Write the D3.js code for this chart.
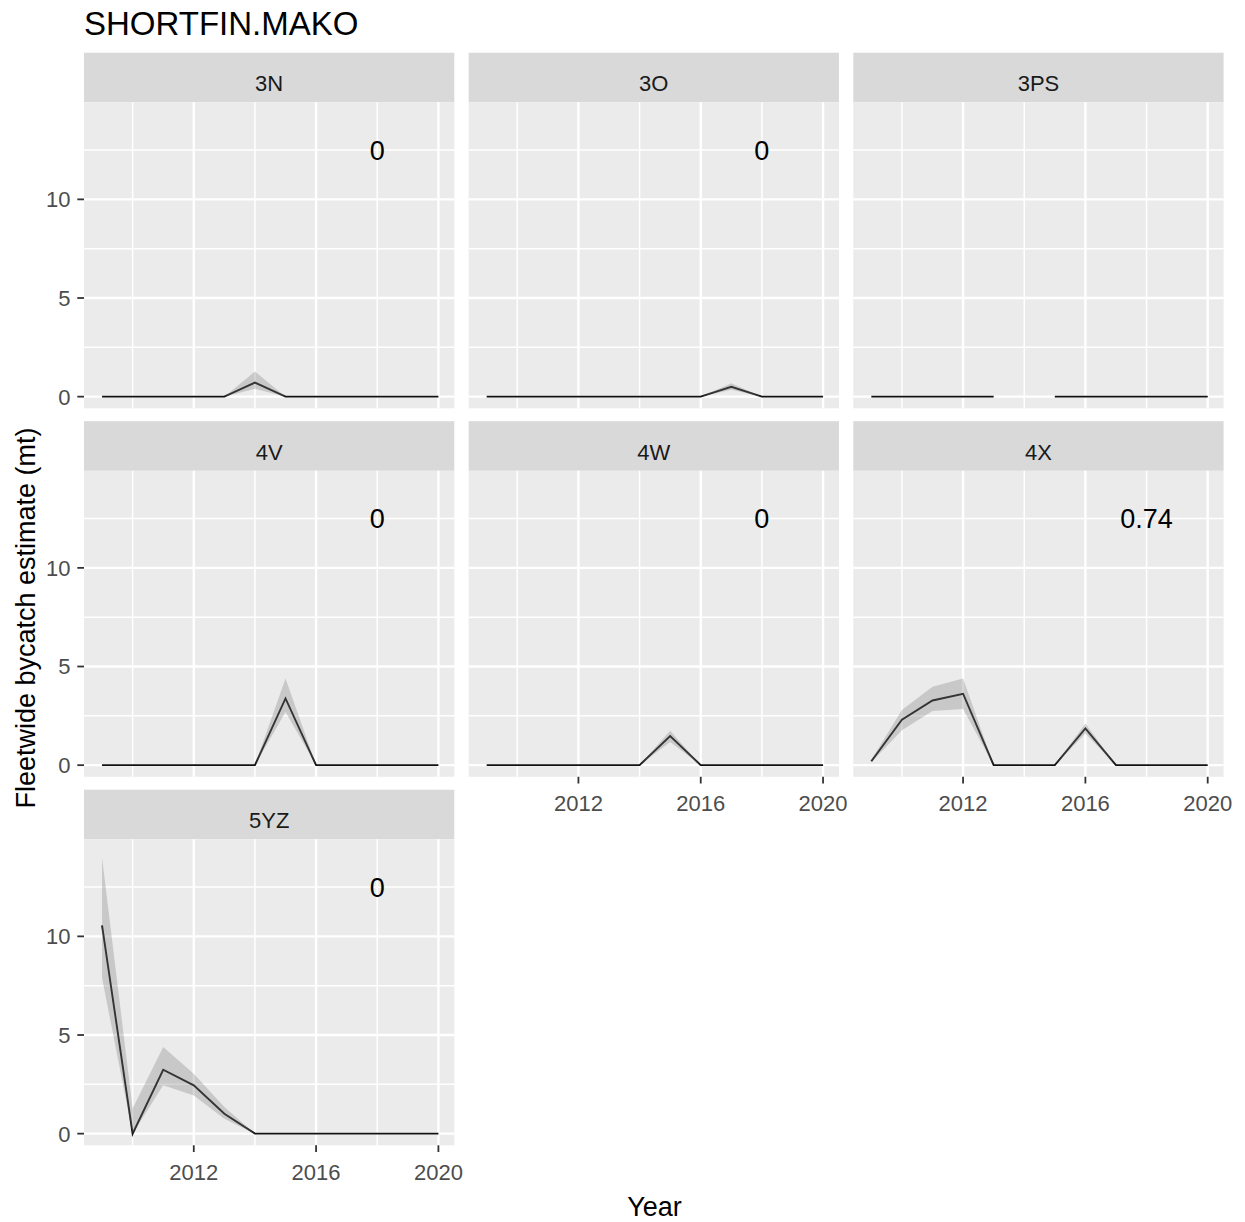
<!DOCTYPE html>
<html>
<head>
<meta charset="utf-8">
<script src="https://cdn.jsdelivr.net/npm/d3@7"></script>
<style>
  html, body { margin: 0; padding: 0; background: #ffffff; }
  text { font-family: "Liberation Sans", Arial, Helvetica, sans-serif; }
</style>
</head>
<body>
<script>
// Fleetwide bycatch estimates (mt) by NAFO division, shortfin mako
const years = [2009, 2010, 2011, 2012, 2013, 2014, 2015, 2016, 2017, 2018, 2019, 2020];
const regions = ["3N", "3O", "3PS", "4V", "4W", "4X", "5YZ"];
const regionLabels = ["0", "0", null, "0", "0", "0.74", "0"];

// estimate, lower bound, upper bound per division
const est3N = [0, 0, 0, 0, 0, 0.71, 0, 0, 0, 0, 0, 0];
const lo3N  = [0, 0, 0, 0, 0, 0.40, 0, 0, 0, 0, 0, 0];
const hi3N  = [0, 0, 0, 0, 0, 1.27, 0, 0, 0, 0, 0, 0];

const est3O = [0, 0, 0, 0, 0, 0, 0, 0, 0.50, 0, 0, 0];
const lo3O  = [0, 0, 0, 0, 0, 0, 0, 0, 0.35, 0, 0, 0];
const hi3O  = [0, 0, 0, 0, 0, 0, 0, 0, 0.68, 0, 0, 0];

const est3PS = [0, 0, 0, 0, 0, null, 0, 0, 0, 0, 0, 0];
const lo3PS  = [0, 0, 0, 0, 0, null, 0, 0, 0, 0, 0, 0];
const hi3PS  = [0, 0, 0, 0, 0, null, 0, 0, 0, 0, 0, 0];

const est4V = [0, 0, 0, 0, 0, 0, 3.38, 0, 0, 0, 0, 0];
const lo4V  = [0, 0, 0, 0, 0, 0, 2.70, 0, 0, 0, 0, 0];
const hi4V  = [0, 0, 0, 0, 0, 0, 4.39, 0, 0, 0, 0, 0];

const est4W = [0, 0, 0, 0, 0, 0, 1.47, 0, 0, 0, 0, 0];
const lo4W  = [0, 0, 0, 0, 0, 0, 1.18, 0, 0, 0, 0, 0];
const hi4W  = [0, 0, 0, 0, 0, 0, 1.74, 0, 0, 0, 0, 0];

const est4X = [0.20, 2.30, 3.28, 3.62, 0, 0, 0, 1.86, 0, 0, 0, 0];
const lo4X  = [0.15, 1.77, 2.75, 2.85, 0, 0, 0, 1.60, 0, 0, 0, 0];
const hi4X  = [0.28, 2.79, 3.97, 4.39, 0, 0, 0, 2.11, 0, 0, 0, 0];

const est5YZ = [10.56, 0, 3.24, 2.45, 1.01, 0, 0, 0, 0, 0, 0, 0];
const lo5YZ  = [7.90, 0, 2.45, 1.94, 0.76, 0, 0, 0, 0, 0, 0, 0];
const hi5YZ  = [14.00, 1.27, 4.39, 3.04, 1.35, 0, 0, 0, 0, 0, 0, 0];

const xTicks = [2012, 2016, 2020];
const xMinor = [2010, 2014, 2018];
const yTicks = [0, 5, 10];
const yMinor = [2.5, 7.5, 12.5];

const estimates = [est3N, est3O, est3PS, est4V, est4W, est4X, est5YZ];
const lowers    = [lo3N, lo3O, lo3PS, lo4V, lo4W, lo4X, lo5YZ];
const uppers    = [hi3N, hi3O, hi3PS, hi4V, hi4W, hi4X, hi5YZ];

// layout of the facet grid
const W = 1245, H = 1222;
const nCol = 3;
const panelLeft0 = 84, colPitch = 384.65, panelW = 370.3;
const stripTop0 = 52.7, rowPitch = 368.5, stripH = 49.6, panelH = 306;

const x = d3.scaleLinear().domain([2008.41, 2020.52]).range([0, panelW]);
const y = d3.scaleLinear().domain([-0.59, 14.92]).range([panelH, 0]);

const svg = d3.select("body").append("svg")
  .attr("width", W).attr("height", H);

svg.append("rect").attr("width", W).attr("height", H).attr("fill", "#ffffff");

const line = d3.line()
  .defined(d => d.est != null)
  .x(d => x(d.year)).y(d => y(d.est));
const area = d3.area()
  .defined(d => d.lo != null && d.hi != null)
  .x(d => x(d.year)).y0(d => y(d.lo)).y1(d => y(d.hi));

regions.forEach((name, i) => {
  const col = i % nCol, row = Math.floor(i / nCol);
  const left = panelLeft0 + col * colPitch;
  const stripTop = stripTop0 + row * rowPitch;
  const top = stripTop + stripH;
  const rows = years.map((yr, k) => ({ year: yr, est: estimates[i][k], lo: lowers[i][k], hi: uppers[i][k] }));

  const g = svg.append("g").attr("transform", `translate(${left},${top})`);

  // strip
  g.append("rect").attr("x", 0).attr("y", -stripH).attr("width", panelW).attr("height", stripH)
    .attr("fill", "#D9D9D9");
  g.append("text").attr("x", panelW / 2).attr("y", -stripH + 38.5)
    .attr("text-anchor", "middle").attr("font-size", 22).attr("fill", "#1A1A1A").text(name);

  // panel background and grid
  g.append("rect").attr("width", panelW).attr("height", panelH).attr("fill", "#EBEBEB");
  const grid = g.append("g").attr("stroke", "#ffffff").attr("fill", "none");
  xMinor.forEach(v => grid.append("line").attr("x1", x(v)).attr("x2", x(v)).attr("y1", 0).attr("y2", panelH).attr("stroke-width", 1.5));
  yMinor.forEach(v => grid.append("line").attr("y1", y(v)).attr("y2", y(v)).attr("x1", 0).attr("x2", panelW).attr("stroke-width", 1.5));
  xTicks.forEach(v => grid.append("line").attr("x1", x(v)).attr("x2", x(v)).attr("y1", 0).attr("y2", panelH).attr("stroke-width", 2.4));
  yTicks.forEach(v => grid.append("line").attr("y1", y(v)).attr("y2", y(v)).attr("x1", 0).attr("x2", panelW).attr("stroke-width", 2.4));

  // estimate line with the interval band over it
  g.append("path").datum(rows).attr("d", line)
    .attr("fill", "none").attr("stroke", "#111111").attr("stroke-width", 1.9);
  g.append("path").datum(rows).attr("d", area)
    .attr("fill", "#7F7F7F").attr("fill-opacity", 0.32).attr("stroke", "none");

  // value label
  if (regionLabels[i] != null) {
    g.append("text").attr("x", x(2018)).attr("y", y(12.5)).attr("dy", "0.36em")
      .attr("text-anchor", "middle").attr("font-size", 27).attr("fill", "#000000")
      .text(regionLabels[i]);
  }

  // y axis on the first column
  if (col === 0) {
    const ya = g.append("g");
    yTicks.forEach(v => {
      ya.append("line").attr("x1", -6.7).attr("x2", 0).attr("y1", y(v)).attr("y2", y(v))
        .attr("stroke", "#333333").attr("stroke-width", 1.8);
      ya.append("text").attr("x", -13.5).attr("y", y(v)).attr("dy", "0.36em")
        .attr("text-anchor", "end").attr("font-size", 22).attr("fill", "#4D4D4D").text(v);
    });
  }

  // x axis where no panel sits below
  const hasBelow = (i + nCol) < regions.length;
  if (!hasBelow) {
    const xa = g.append("g");
    xTicks.forEach(v => {
      xa.append("line").attr("x1", x(v)).attr("x2", x(v)).attr("y1", panelH).attr("y2", panelH + 6.7)
        .attr("stroke", "#333333").attr("stroke-width", 1.8);
      xa.append("text").attr("x", x(v)).attr("y", panelH + 34.3)
        .attr("text-anchor", "middle").attr("font-size", 22).attr("fill", "#4D4D4D").text(v);
    });
  }
});

// titles
svg.append("text").attr("x", 84).attr("y", 35).attr("font-size", 33).attr("fill", "#000000")
  .text("SHORTFIN.MAKO");
svg.append("text").attr("x", 654.5).attr("y", 1216).attr("text-anchor", "middle")
  .attr("font-size", 27).attr("fill", "#000000").text("Year");
svg.append("text").attr("transform", "translate(34.5,618) rotate(-90)").attr("text-anchor", "middle")
  .attr("font-size", 27).attr("fill", "#000000").text("Fleetwide bycatch estimate (mt)");
</script>
</body>
</html>
